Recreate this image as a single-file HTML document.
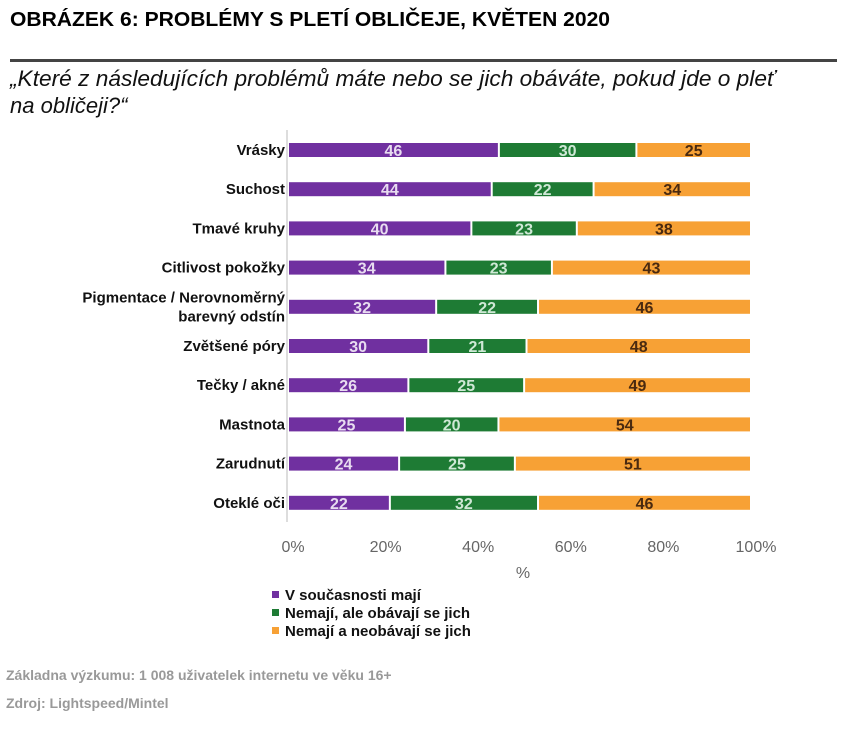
<!DOCTYPE html>
<html><head><meta charset="utf-8"><style>
body{margin:0;background:#fff;width:847px;height:731px;overflow:hidden;font-family:"Liberation Sans",sans-serif;}
</style></head><body>
<svg width="847" height="731" xmlns="http://www.w3.org/2000/svg">
<text x="10" y="26" font-family="Liberation Sans Narrow, Liberation Sans, sans-serif" font-weight="bold" font-size="20" textLength="600" lengthAdjust="spacingAndGlyphs" fill="#000">OBRÁZEK 6: PROBLÉMY S PLETÍ OBLIČEJE, KVĚTEN 2020</text>
<rect x="10" y="59" width="827" height="3" fill="#444"/>
<text font-family="Liberation Sans Narrow, Liberation Sans, sans-serif" font-style="italic" font-size="22" fill="#111"><tspan x="10" y="86" textLength="765" lengthAdjust="spacingAndGlyphs">„Které z následujících problémů máte nebo se jich obáváte, pokud jde o pleť</tspan><tspan x="10" y="113">na obličeji?“</tspan></text>
<g id="plot"></g>
<text x="523" y="578" font-size="16" text-anchor="middle" fill="#666">%</text>
<g font-size="15" font-weight="bold" fill="#111">
<rect x="272" y="591" width="7" height="7" fill="#7030a0"/><text x="285" y="600">V současnosti mají</text>
<rect x="272" y="609" width="7" height="7" fill="#1e7b34"/><text x="285" y="618">Nemají, ale obávají se jich</text>
<rect x="272" y="627" width="7" height="7" fill="#f7a135"/><text x="285" y="636">Nemají a neobávají se jich</text>
</g>
<text x="6" y="680" font-size="14" font-weight="bold" fill="#999">Základna výzkumu: 1 008 uživatelek internetu ve věku 16+</text>
<text x="6" y="708" font-size="14" font-weight="bold" fill="#999">Zdroj:  Lightspeed/Mintel</text>
</svg>
<script>
const categories=[["Vrásky"],["Suchost"],["Tmavé kruhy"],["Citlivost pokožky"],["Pigmentace / Nerovnoměrný","barevný odstín"],["Zvětšené póry"],["Tečky / akné"],["Mastnota"],["Zarudnutí"],["Oteklé oči"]];
const current=[46,44,40,34,32,30,26,25,24,22];
const worried=[30,22,23,23,22,21,25,20,25,32];
const notWorried=[25,34,38,43,46,48,49,54,51,46];
const ticks=[0,20,40,60,80,100];
const NS="http://www.w3.org/2000/svg";
const g=document.getElementById('plot');
const X0=288,X1=751,Y0=150,DY=39.2,BH=14;
const xs=v=>X0+(X1-X0)*v/100;
const ys=i=>Y0+i*DY;
function mk(t,a){const e=document.createElementNS(NS,t);for(const k in a)e.setAttribute(k,a[k]);g.appendChild(e);return e;}
const ax=mk('line',{x1:287,x2:287,y1:130,y2:522,stroke:'#bbb','stroke-width':1});


ticks.forEach(t=>{const e=mk('text',{x:xs(t)+5,y:552,'font-size':16,'text-anchor':'middle',fill:'#666'});e.textContent=t+'%';

});
const series=[[current,'#7030a0','#e8dcf0','current'],[worried,'#1e7b34','#cfe8d6','worried'],[notWorried,'#f7a135','#4a2a10','none']];
categories.forEach((c,i)=>{
 const y=ys(i);
 const total=current[i]+worried[i]+notWorried[i];
 const lab=mk('text',{x:285,'font-size':15,'font-weight':'bold','text-anchor':'end',fill:'#111'});
 
 
 c.forEach((l,j)=>{const ts=document.createElementNS(NS,'tspan');ts.setAttribute('x',285);ts.setAttribute('y',(y+5+(j-(c.length-1)/2)*19).toFixed(1));ts.textContent=l;lab.appendChild(ts);});
 let acc=0;
 series.forEach(([arr,col,tc,nm])=>{
  const v=arr[i]*100/total;
  const r=mk('rect',{x:xs(acc)+1,y:y-BH/2,width:Math.max(0,xs(acc+v)-xs(acc)-2),height:BH,fill:col});
  
  
  const t=mk('text',{x:(xs(acc)+xs(acc+v))/2,y:y+6,'font-size':16,'font-weight':'bold','text-anchor':'middle',fill:tc});
  t.textContent=arr[i];
  
  
  acc+=v;
 });
});
</script>
</body></html>
